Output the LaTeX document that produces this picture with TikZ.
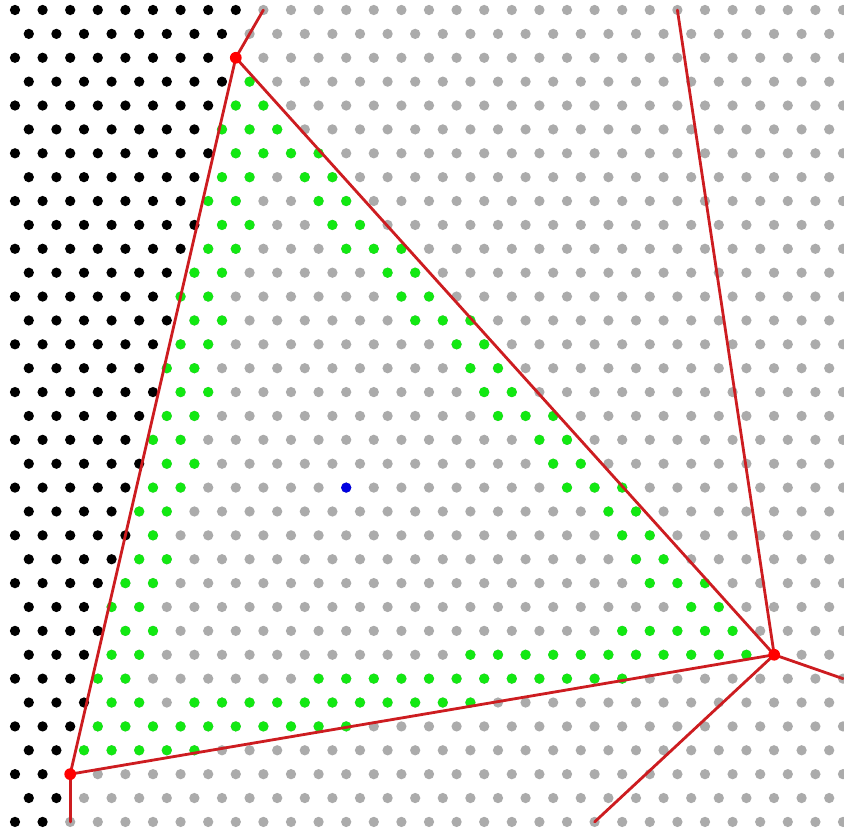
\documentclass[tikz,border=0pt]{standalone}
\definecolor{dotgray}{RGB}{171,171,171}
\definecolor{dotgreen}{RGB}{18,232,18}
\definecolor{dotblue}{RGB}{0,0,225}
\definecolor{edgered}{RGB}{205,28,32}
\definecolor{vtxred}{RGB}{255,0,0}
\tikzset{
  graydot/.style={fill=dotgray},
  blackdot/.style={fill=black},
  greendot/.style={fill=dotgreen},
  bluedot/.style={fill=dotblue},
  vtxdot/.style={fill=vtxred},
  edge/.style={draw=edgered,line width=2.1pt,line cap=round}
}
\begin{document}
\begin{tikzpicture}[x=0.75pt,y=-0.75pt]
\useasboundingbox (0,0) rectangle (844,832);
\fill[white] (0,0) rectangle (844,832);
% lattice: row r, index k; x = 15 + 27.6 k (+13.8 on odd rows), y = 10 + 23.88 r
\foreach \r/\b/\g in {
  0/8/{-1}, 1/7/{-1}, 2/7/{-1}, 3/7/{8}, 4/7/{8,9}, 5/6/{7,8,9},
  6/7/{8,9,10,11}, 7/6/{7,8,10,11}, 8/6/{7,8,11,12}, 9/6/{7,8,11,12},
  10/6/{7,8,12,13,14}, 11/5/{6,7,13,14}, 12/5/{6,7,14,15},
  13/5/{6,7,14,15,16}, 14/5/{6,7,16,17}, 15/4/{5,6,16,17},
  16/5/{6,7,17,18}, 17/4/{5,6,17,18,19}, 18/4/{5,6,19,20},
  19/4/{5,6,19,20}, 20/4/{5,6,20,21,22}, 21/3/{4,5,21,22},
  22/4/{5,22,23}, 23/3/{4,5,22,23}, 24/3/{4,5,23,24,25},
  25/2/{3,4,24,25}, 26/3/{4,5,22,23,24,25,26},
  27/2/{3,4,16,17,18,19,20,21,22,23,24,25,26},
  28/2/{3,4,11,12,13,14,15,16,17,18,19,20,21,22},
  29/2/{3,4,6,7,8,9,10,11,12,13,14,15,16},
  30/2/{3,4,5,6,7,8,9,10,11,12},
  31/1/{2,3,4,5,6}, 32/1/{-1}, 33/1/{-1}, 34/1/{-1}}{
  \pgfmathsetmacro\off{mod(\r,2)*13.8}
  \pgfmathtruncatemacro\kmax{30-mod(\r,2)}
  \pgfmathsetmacro\yy{10+23.88*\r}
  \foreach \k in {0,...,\kmax}{
    \pgfmathsetmacro\xx{15+27.6*\k+\off}
    \ifnum\k>\b
      \fill[graydot] (\xx,\yy) circle (3.85pt);
    \else
      \fill[blackdot] (\xx,\yy) circle (3.85pt);
    \fi
  }
  \foreach \k in \g {
    \ifnum\k>-1
      \pgfmathsetmacro\xx{15+27.6*\k+\off}
      \fill[greendot] (\xx,\yy) circle (3.85pt);
    \fi
  }
}
% site
\coordinate (site) at (346.2,487.6);
\fill[bluedot] (site) circle (3.85pt);
% Voronoi vertices and edge ends
\coordinate (vtop) at (235.8,57.76);
\coordinate (vleft) at (70.2,774.16);
\coordinate (vright) at (774.2,654.76);
\coordinate (etopA) at (263.4,10);
\coordinate (ebotA) at (70.2,821.92);
\coordinate (etopB) at (677.4,10);
\coordinate (eright) at (843,678.64);
\coordinate (ebotB) at (594.6,821.92);
\draw[edge] (vtop) -- (vright) -- (vleft) -- cycle;
\draw[edge] (vtop) -- (etopA);
\draw[edge] (vleft) -- (ebotA);
\draw[edge] (vright) -- (etopB);
\draw[edge] (vright) -- (eright);
\draw[edge] (vright) -- (ebotB);
\fill[vtxdot] (vtop) circle (4.4pt);
\fill[vtxdot] (vleft) circle (4.4pt);
\fill[vtxdot] (vright) circle (4.4pt);
\end{tikzpicture}
\end{document}
